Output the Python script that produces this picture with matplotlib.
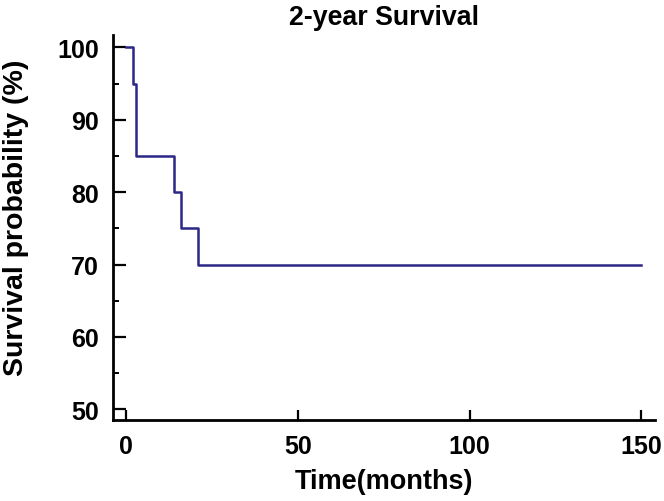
import numpy as np
import matplotlib
matplotlib.use("Agg")
import matplotlib.pyplot as plt
from matplotlib.ticker import MultipleLocator

# Kaplan-Meier steps (time in months, survival in %)
times = [0, 2.1, 2.9, 14.0, 16.0, 21.1, 150]
surv = [100, 95, 85, 80, 75, 70, 70]

xticks = [0, 50, 100, 150]
yticks = [50, 60, 70, 80, 90, 100]

plt.rcParams['font.family'] = ['Liberation Sans', 'DejaVu Sans']
plt.rcParams['font.weight'] = 'bold'

fig = plt.figure(figsize=(6.64, 5.02), dpi=100)
ax = fig.add_axes([0.170, 0.161, 0.816, 0.767])

ax.step(times, surv, where='post', color='#2b2787', linewidth=1.8)

ax.set_xlim(-3.8, 153.9)
ax.set_ylim(48.5, 101.7)
ax.set_xticks(xticks)
ax.set_yticks(yticks)
ax.yaxis.set_minor_locator(MultipleLocator(5))

for s in ['top', 'right']:
    ax.spines[s].set_visible(False)
for s in ['left', 'bottom']:
    ax.spines[s].set_linewidth(2.0)

ax.tick_params(axis='both', which='major', direction='in', length=7, width=1.6,
               labelsize=18, pad=10)
ax.tick_params(axis='y', which='major', length=9.5)
ax.tick_params(axis='y', which='minor', direction='in', length=4.5, width=1.4)
for lab in ax.get_xticklabels() + ax.get_yticklabels():
    lab.set_fontweight('bold')

ax.set_xlabel("Time(months)", fontsize=19.5, fontweight='bold')
ax.set_ylabel("Survival probability (%)", fontsize=20.5, fontweight='bold')
ax.xaxis.set_label_coords(0.5, -0.125)
ax.yaxis.set_label_coords(-0.155, 0.527)
ax.set_title("2-year Survival", fontsize=19.3, fontweight='bold', pad=8)

fig.savefig("out.png", dpi=100)
